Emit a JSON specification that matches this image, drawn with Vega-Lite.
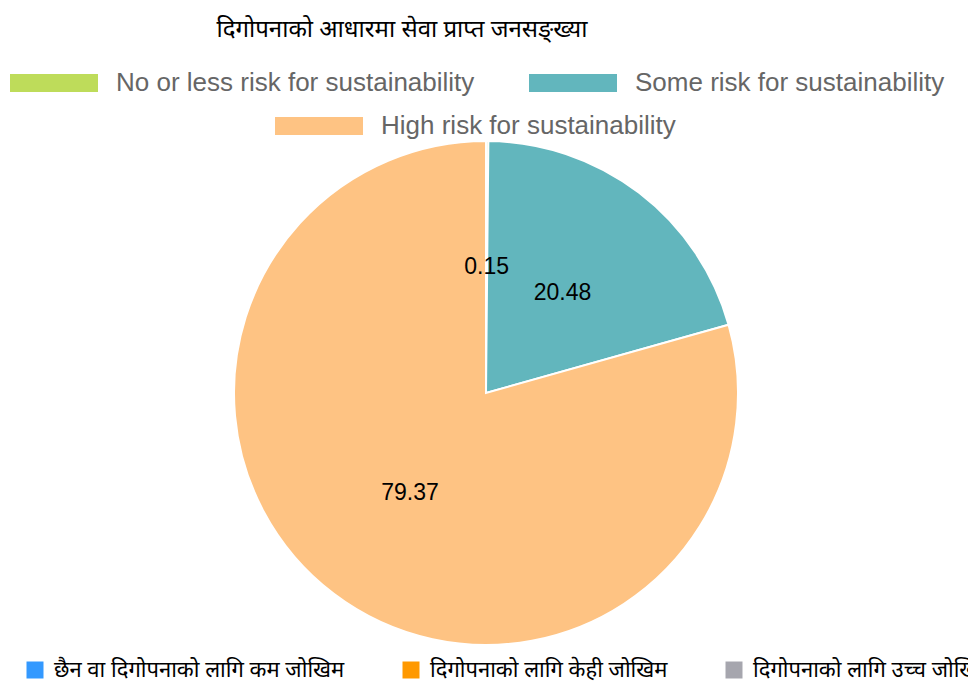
{
  "$schema": "https://vega.github.io/schema/vega-lite/v6.json",
  "width": 964,
  "height": 582,
  "autosize": {"type": "none"},
  "padding": {"top": 102, "left": 4, "right": 0, "bottom": 0},
  "background": "white",
  "title": {
    "text": "दिगोपनाको आधारमा सेवा प्राप्त जनसङ्ख्या",
    "anchor": "middle",
    "dx": -84,
    "offset": -22,
    "baseline": "alphabetic",
    "fontSize": 24,
    "font": "Noto Sans",
    "fontWeight": "normal",
    "color": "#000000"
  },
  "data": {
    "values": [
      {"idx": 1, "category": "No or less risk for sustainability", "np": "छैन वा दिगोपनाको लागि कम जोखिम", "value": 0.15},
      {"idx": 2, "category": "Some risk for sustainability", "np": "दिगोपनाको लागि केही जोखिम", "value": 20.48},
      {"idx": 3, "category": "High risk for sustainability", "np": "दिगोपनाको लागि उच्च जोखिम", "value": 79.37}
    ]
  },
  "config": {"view": {"stroke": null}},
  "layer": [
    {
      "mark": {"type": "arc", "outerRadius": 252, "stroke": "white", "strokeWidth": 2},
      "encoding": {
        "theta": {"field": "value", "type": "quantitative", "stack": true},
        "order": {"field": "idx", "type": "quantitative"},
        "color": {
          "field": "category",
          "type": "nominal",
          "scale": {
            "domain": ["No or less risk for sustainability", "Some risk for sustainability", "High risk for sustainability"],
            "range": ["#BEDC5A", "#62B6BD", "#FEC383"]
          },
          "legend": {
            "orient": "none",
            "legendX": 6,
            "legendY": -63,
            "direction": "horizontal",
            "title": null,
            "values": ["No or less risk for sustainability", "Some risk for sustainability"],
            "symbolType": "M-1,-0.2045H1V0.2045H-1Z",
            "symbolSize": 7744,
            "symbolStrokeWidth": 0,
            "symbolOpacity": 1,
            "labelFontSize": 26,
            "labelFont": "Liberation Sans",
            "labelColor": "#666666",
            "labelOffset": 18,
            "labelLimit": 1000,
            "columnPadding": 54
          }
        }
      }
    },
    {
      "mark": {"type": "arc", "outerRadius": 252, "opacity": 0},
      "encoding": {
        "theta": {"field": "value", "type": "quantitative", "stack": true},
        "order": {"field": "idx", "type": "quantitative"},
        "color": {
          "field": "category",
          "type": "nominal",
          "scale": {
            "domain": ["No or less risk for sustainability", "Some risk for sustainability", "High risk for sustainability"],
            "range": ["#BEDC5A", "#62B6BD", "#FEC383"]
          },
          "legend": {
            "orient": "none",
            "legendX": 271,
            "legendY": -20,
            "direction": "horizontal",
            "title": null,
            "values": ["High risk for sustainability"],
            "symbolType": "M-1,-0.2045H1V0.2045H-1Z",
            "symbolSize": 7744,
            "symbolStrokeWidth": 0,
            "symbolOpacity": 1,
            "labelFontSize": 26,
            "labelFont": "Liberation Sans",
            "labelColor": "#666666",
            "labelOffset": 18,
            "labelLimit": 1000
          }
        }
      }
    },
    {
      "mark": {"type": "arc", "outerRadius": 252, "opacity": 0},
      "encoding": {
        "theta": {"field": "value", "type": "quantitative", "stack": true},
        "order": {"field": "idx", "type": "quantitative"},
        "color": {
          "field": "np",
          "type": "nominal",
          "scale": {
            "domain": ["छैन वा दिगोपनाको लागि कम जोखिम", "दिगोपनाको लागि केही जोखिम", "दिगोपनाको लागि उच्च जोखिम"],
            "range": ["#3399FF", "#FF9900", "#A6A6AE"]
          },
          "legend": {
            "orient": "none",
            "legendX": 20,
            "legendY": 557,
            "direction": "horizontal",
            "title": null,
            "symbolType": "square",
            "symbolSize": 289,
            "symbolStrokeWidth": 0,
            "symbolOpacity": 1,
            "labelFontSize": 22,
            "labelFont": "Noto Sans",
            "labelColor": "#000000",
            "labelOffset": 8,
            "labelLimit": 1000,
            "columnPadding": 55
          }
        }
      }
    },
    {
      "mark": {"type": "text", "radius": 126, "fontSize": 23, "font": "Liberation Sans", "color": "#000000"},
      "encoding": {
        "theta": {"field": "value", "type": "quantitative", "stack": true},
        "order": {"field": "idx", "type": "quantitative"},
        "text": {"field": "value", "type": "quantitative", "format": ".2f"}
      }
    }
  ],
  "resolve": {"scale": {"color": "independent"}, "legend": {"color": "independent"}}
}
